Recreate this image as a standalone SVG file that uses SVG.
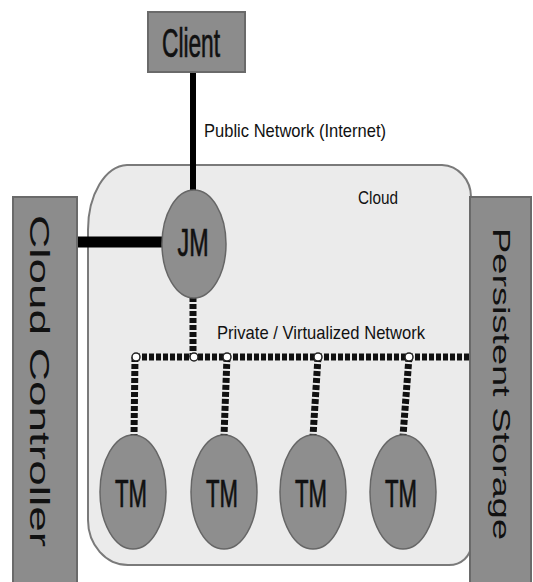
<svg xmlns="http://www.w3.org/2000/svg" width="533" height="582" viewBox="0 0 533 582">
<style>
.box{fill:#8c8c8c;stroke:#6a6a6a;stroke-width:2}
.node{fill:#8e8e8e;stroke:#666;stroke-width:1.5}
.lbl{font-family:"Liberation Sans",Arial,sans-serif;fill:#111}
.big{stroke:#111;stroke-width:0.7}
.net{stroke:#111;stroke-width:7;stroke-dasharray:5 2;fill:none}
.joint{fill:#fff;stroke:#222;stroke-width:1.5}
</style>
<rect width="533" height="582" fill="#fff"/>
<g id="cloud">
<path d="M127,165 L442,165 A30,32 0 0 1 471,197 L471,545 A22,20 0 0 1 449,565 L128,565 A40,45 0 0 1 88,520 L88,230 A40,65 0 0 1 127,165 Z" fill="#ebebeb" stroke="#7a7a7a" stroke-width="2"/>
<text class="lbl" x="358" y="204" font-size="18" textLength="40" lengthAdjust="spacingAndGlyphs">Cloud</text>
</g>
<g id="connectors">
<line x1="193" y1="72" x2="193" y2="192" stroke="#000" stroke-width="6"/>
<line x1="77" y1="242" x2="164" y2="242" stroke="#000" stroke-width="11"/>
<line class="net" x1="193" y1="297" x2="193" y2="357"/>
<line class="net" x1="135" y1="357" x2="470" y2="357"/>
<line class="net" x1="135" y1="357" x2="134" y2="436"/>
<line class="net" x1="227" y1="357" x2="224" y2="436"/>
<line class="net" x1="318" y1="357" x2="313" y2="436"/>
<line class="net" x1="409" y1="357" x2="403" y2="436"/>
<circle class="joint" cx="136" cy="357" r="4"/>
<circle class="joint" cx="194" cy="357" r="4"/>
<circle class="joint" cx="227" cy="357" r="4"/>
<circle class="joint" cx="318" cy="357" r="4"/>
<circle class="joint" cx="409" cy="357" r="4"/>
<text class="lbl" x="204" y="137" font-size="19" textLength="182" lengthAdjust="spacingAndGlyphs" fill="#2a2a2a">Public Network (Internet)</text>
<text class="lbl" x="217" y="339" font-size="19" textLength="208" lengthAdjust="spacingAndGlyphs" fill="#2a2a2a">Private / Virtualized Network</text>
</g>
<g id="client">
<rect class="box" x="148" y="12" width="97" height="60"/>
<text class="lbl big" x="162" y="57" font-size="40" textLength="58" lengthAdjust="spacingAndGlyphs">Client</text>
</g>
<g id="cloud-controller">
<rect class="box" x="13" y="197" width="64" height="390"/>
<text class="lbl" transform="translate(30,381) rotate(90)" text-anchor="middle" font-size="28" textLength="332" lengthAdjust="spacingAndGlyphs">Cloud Controller</text>
</g>
<g id="persistent-storage">
<rect class="box" x="470" y="197" width="61" height="390"/>
<text class="lbl" transform="translate(493,384) rotate(90)" text-anchor="middle" font-size="24" textLength="312" lengthAdjust="spacingAndGlyphs">Persistent Storage</text>
</g>
<g id="jm">
<ellipse class="node" cx="194" cy="244" rx="32" ry="54"/>
<text class="lbl big" x="193" y="256" text-anchor="middle" font-size="38" textLength="31" lengthAdjust="spacingAndGlyphs">JM</text>
</g>
<g id="tm1">
<ellipse class="node" cx="133" cy="492" rx="33" ry="57"/>
<text class="lbl big" x="131" y="507" text-anchor="middle" font-size="38" textLength="32" lengthAdjust="spacingAndGlyphs">TM</text>
</g>
<g id="tm2">
<ellipse class="node" cx="224" cy="492" rx="33" ry="57"/>
<text class="lbl big" x="222" y="507" text-anchor="middle" font-size="38" textLength="32" lengthAdjust="spacingAndGlyphs">TM</text>
</g>
<g id="tm3">
<ellipse class="node" cx="313" cy="492" rx="33" ry="57"/>
<text class="lbl big" x="311" y="507" text-anchor="middle" font-size="38" textLength="32" lengthAdjust="spacingAndGlyphs">TM</text>
</g>
<g id="tm4">
<ellipse class="node" cx="403" cy="492" rx="33" ry="57"/>
<text class="lbl big" x="401" y="507" text-anchor="middle" font-size="38" textLength="32" lengthAdjust="spacingAndGlyphs">TM</text>
</g>
</svg>
